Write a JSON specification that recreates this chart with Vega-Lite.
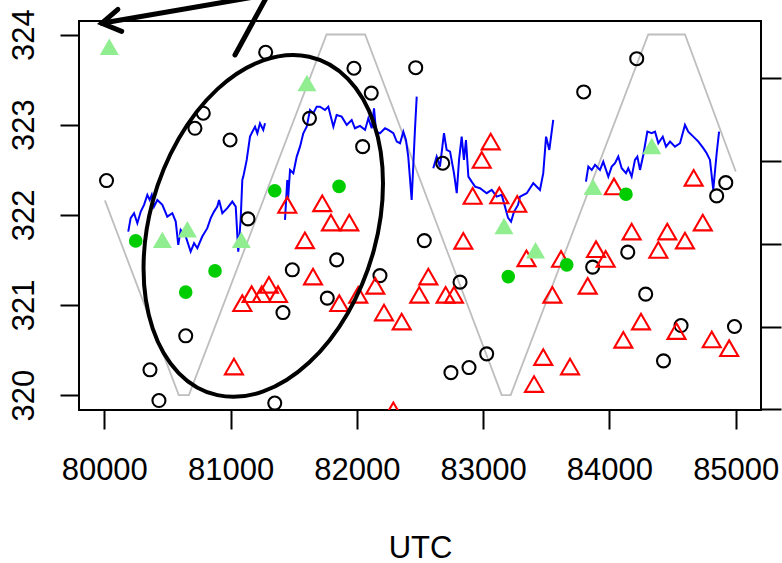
{
  "width": 682,
  "height": 389,
  "autosize": "none",
  "padding": {"left": 79, "top": 21, "right": 21, "bottom": 153},
  "background": "white",
  "config": {
    "view": {"stroke": "black", "strokeWidth": 2},
    "font": "Liberation Sans",
    "axis": {"grid": false, "domain": false, "tickColor": "black", "tickWidth": 2, "tickSize": 19, "labelFont": "Liberation Sans", "labelFontSize": 31, "labelColor": "black", "titleFont": "Liberation Sans", "titleFontSize": 31, "titleColor": "black", "titleFontWeight": "normal", "labelOverlap": false, "labelBound": false, "labelFlush": false}
  },
  "datasets": {
    "gray": [
      {"x": 80005, "y": 322.16}, {"x": 80590, "y": 320}, {"x": 80670, "y": 320}, {"x": 81760, "y": 324}, {"x": 82065, "y": 324},
      {"x": 83147, "y": 320}, {"x": 83218, "y": 320}, {"x": 84307, "y": 324}, {"x": 84598, "y": 324}, {"x": 85000, "y": 322.48}
    ],
    "blue": [
      {"s": 1, "x": 80190, "y": 321.814}, {"s": 1, "x": 80209, "y": 321.963}, {"s": 1, "x": 80236, "y": 322.018}, {"s": 1, "x": 80262, "y": 321.907},
      {"s": 1, "x": 80289, "y": 322.036}, {"s": 1, "x": 80315, "y": 322.11}, {"s": 1, "x": 80341, "y": 322.221}, {"s": 1, "x": 80360, "y": 322.165},
      {"s": 1, "x": 80376, "y": 322.221}, {"s": 1, "x": 80394, "y": 322.091}, {"s": 1, "x": 80420, "y": 322.165}, {"s": 1, "x": 80460, "y": 322.11},
      {"s": 1, "x": 80499, "y": 321.98}, {"s": 1, "x": 80539, "y": 322.018}, {"s": 1, "x": 80566, "y": 321.925}, {"s": 1, "x": 80586, "y": 321.667},
      {"s": 1, "x": 80605, "y": 321.833}, {"s": 1, "x": 80645, "y": 321.759}, {"s": 1, "x": 80684, "y": 321.592}, {"s": 1, "x": 80711, "y": 321.685},
      {"s": 1, "x": 80737, "y": 321.63}, {"s": 1, "x": 80776, "y": 321.759}, {"s": 1, "x": 80816, "y": 321.852}, {"s": 1, "x": 80843, "y": 321.963},
      {"s": 1, "x": 80869, "y": 322.036}, {"s": 1, "x": 80895, "y": 322.091}, {"s": 1, "x": 80909, "y": 322.165}, {"s": 1, "x": 80935, "y": 322.018},
      {"s": 1, "x": 80974, "y": 322.074}, {"s": 1, "x": 81014, "y": 322.147}, {"s": 1, "x": 81041, "y": 322.091}, {"s": 1, "x": 81061, "y": 321.592},
      {"s": 1, "x": 81080, "y": 321.944}, {"s": 1, "x": 81093, "y": 322.387}, {"s": 1, "x": 81101, "y": 322.424}, {"s": 1, "x": 81128, "y": 322.609},
      {"s": 1, "x": 81154, "y": 322.867}, {"s": 1, "x": 81167, "y": 322.905}, {"s": 1, "x": 81194, "y": 322.978}, {"s": 1, "x": 81212, "y": 322.905},
      {"s": 1, "x": 81233, "y": 323.016}, {"s": 1, "x": 81259, "y": 322.942}, {"s": 1, "x": 81273, "y": 323.016},
      {"s": 2, "x": 81431, "y": 321.944}, {"s": 2, "x": 81449, "y": 322.387}, {"s": 2, "x": 81455, "y": 322.165}, {"s": 2, "x": 81471, "y": 322.498},
      {"s": 2, "x": 81497, "y": 322.462}, {"s": 2, "x": 81524, "y": 322.646}, {"s": 2, "x": 81550, "y": 322.756}, {"s": 2, "x": 81576, "y": 322.905},
      {"s": 2, "x": 81603, "y": 322.978}, {"s": 2, "x": 81629, "y": 323.163}, {"s": 2, "x": 81655, "y": 323.127}, {"s": 2, "x": 81682, "y": 323.2},
      {"s": 2, "x": 81708, "y": 323.2}, {"s": 2, "x": 81748, "y": 323.163}, {"s": 2, "x": 81774, "y": 323.2}, {"s": 2, "x": 81814, "y": 322.978},
      {"s": 2, "x": 81840, "y": 323.108}, {"s": 2, "x": 81880, "y": 323.089}, {"s": 2, "x": 81920, "y": 322.997}, {"s": 2, "x": 81959, "y": 323.052},
      {"s": 2, "x": 81985, "y": 322.96}, {"s": 2, "x": 82025, "y": 322.986}, {"s": 2, "x": 82065, "y": 322.942}, {"s": 2, "x": 82091, "y": 323.071},
      {"s": 2, "x": 82118, "y": 322.96}, {"s": 2, "x": 82136, "y": 323.182}, {"s": 2, "x": 82152, "y": 322.923}, {"s": 2, "x": 82183, "y": 322.905},
      {"s": 2, "x": 82223, "y": 322.96}, {"s": 2, "x": 82249, "y": 322.942}, {"s": 2, "x": 82289, "y": 322.905}, {"s": 2, "x": 82316, "y": 322.812},
      {"s": 2, "x": 82342, "y": 322.794}, {"s": 2, "x": 82368, "y": 322.923}, {"s": 2, "x": 82389, "y": 322.83}, {"s": 2, "x": 82407, "y": 322.646},
      {"s": 2, "x": 82434, "y": 322.165}, {"s": 2, "x": 82460, "y": 322.942}, {"s": 2, "x": 82474, "y": 323.311},
      {"s": 3, "x": 82605, "y": 322.517}, {"s": 3, "x": 82632, "y": 322.646}, {"s": 3, "x": 82658, "y": 322.535}, {"s": 3, "x": 82690, "y": 322.905},
      {"s": 3, "x": 82711, "y": 322.72}, {"s": 3, "x": 82738, "y": 322.701}, {"s": 3, "x": 82769, "y": 322.462}, {"s": 3, "x": 82791, "y": 322.24},
      {"s": 3, "x": 82809, "y": 322.609}, {"s": 3, "x": 82830, "y": 322.867}, {"s": 3, "x": 82848, "y": 322.609}, {"s": 3, "x": 82864, "y": 322.83},
      {"s": 3, "x": 82883, "y": 322.424}, {"s": 3, "x": 82909, "y": 322.368}, {"s": 3, "x": 82936, "y": 322.313}, {"s": 3, "x": 82975, "y": 322.295},
      {"s": 3, "x": 83028, "y": 322.24}, {"s": 3, "x": 83068, "y": 322.276}, {"s": 3, "x": 83107, "y": 322.202}, {"s": 3, "x": 83147, "y": 322.221},
      {"s": 3, "x": 83173, "y": 322.091}, {"s": 3, "x": 83197, "y": 321.966}, {"s": 3, "x": 83221, "y": 321.925}, {"s": 3, "x": 83244, "y": 322.033},
      {"s": 3, "x": 83276, "y": 322.11}, {"s": 3, "x": 83292, "y": 322.202}, {"s": 3, "x": 83345, "y": 322.24}, {"s": 3, "x": 83397, "y": 322.351},
      {"s": 3, "x": 83450, "y": 322.276}, {"s": 3, "x": 83476, "y": 322.462}, {"s": 3, "x": 83498, "y": 322.867}, {"s": 3, "x": 83524, "y": 322.72},
      {"s": 3, "x": 83555, "y": 323.052},
      {"s": 4, "x": 83814, "y": 322.368}, {"s": 4, "x": 83833, "y": 322.535}, {"s": 4, "x": 83860, "y": 322.498}, {"s": 4, "x": 83886, "y": 322.554},
      {"s": 4, "x": 83925, "y": 322.498}, {"s": 4, "x": 83951, "y": 322.59}, {"s": 4, "x": 83991, "y": 322.424}, {"s": 4, "x": 84018, "y": 322.535},
      {"s": 4, "x": 84044, "y": 322.572}, {"s": 4, "x": 84070, "y": 322.646}, {"s": 4, "x": 84097, "y": 322.517}, {"s": 4, "x": 84131, "y": 322.462},
      {"s": 4, "x": 84149, "y": 322.517}, {"s": 4, "x": 84176, "y": 322.424}, {"s": 4, "x": 84202, "y": 322.609}, {"s": 4, "x": 84221, "y": 322.646},
      {"s": 4, "x": 84242, "y": 322.498}, {"s": 4, "x": 84268, "y": 322.664}, {"s": 4, "x": 84300, "y": 322.923}, {"s": 4, "x": 84335, "y": 322.905},
      {"s": 4, "x": 84361, "y": 322.923}, {"s": 4, "x": 84387, "y": 322.794}, {"s": 4, "x": 84422, "y": 322.867}, {"s": 4, "x": 84448, "y": 322.756},
      {"s": 4, "x": 84480, "y": 322.812}, {"s": 4, "x": 84519, "y": 322.756}, {"s": 4, "x": 84559, "y": 322.794}, {"s": 4, "x": 84598, "y": 322.997},
      {"s": 4, "x": 84624, "y": 322.923}, {"s": 4, "x": 84664, "y": 322.867}, {"s": 4, "x": 84704, "y": 322.812}, {"s": 4, "x": 84743, "y": 322.739},
      {"s": 4, "x": 84770, "y": 322.683}, {"s": 4, "x": 84796, "y": 322.609}, {"s": 4, "x": 84822, "y": 322.276}, {"s": 4, "x": 84849, "y": 322.683},
      {"s": 4, "x": 84868, "y": 322.923}
    ],
    "circles": [
      {"x": 80018, "y": 322.38}, {"x": 81278, "y": 323.803}, {"x": 80784, "y": 323.127}, {"x": 80718, "y": 322.96}, {"x": 80996, "y": 322.83},
      {"x": 81625, "y": 323.07}, {"x": 81977, "y": 323.626}, {"x": 82114, "y": 323.35}, {"x": 82466, "y": 323.632}, {"x": 82046, "y": 322.756},
      {"x": 82680, "y": 322.572}, {"x": 83796, "y": 323.363}, {"x": 84216, "y": 323.732}, {"x": 84849, "y": 322.21}, {"x": 84921, "y": 322.357},
      {"x": 81138, "y": 321.955}, {"x": 81489, "y": 321.39}, {"x": 81415, "y": 320.916}, {"x": 80645, "y": 320.658}, {"x": 80362, "y": 320.281},
      {"x": 80433, "y": 319.94}, {"x": 81350, "y": 319.912}, {"x": 81840, "y": 321.5}, {"x": 81766, "y": 321.076}, {"x": 82183, "y": 321.326},
      {"x": 82534, "y": 321.714}, {"x": 82817, "y": 321.253}, {"x": 83028, "y": 320.458}, {"x": 82888, "y": 320.306}, {"x": 82745, "y": 320.25},
      {"x": 83867, "y": 321.42}, {"x": 84145, "y": 321.586}, {"x": 84287, "y": 321.12}, {"x": 84567, "y": 320.772}, {"x": 84990, "y": 320.761},
      {"x": 84428, "y": 320.38}
    ],
    "reds": [
      {"x": 83060, "y": 322.812}, {"x": 82989, "y": 322.609}, {"x": 82917, "y": 322.21}, {"x": 83128, "y": 322.215}, {"x": 83270, "y": 322.121},
      {"x": 81449, "y": 322.11}, {"x": 81726, "y": 322.127}, {"x": 81795, "y": 321.914}, {"x": 81940, "y": 321.914}, {"x": 81589, "y": 321.717},
      {"x": 82843, "y": 321.711}, {"x": 81653, "y": 321.315}, {"x": 81093, "y": 321.02}, {"x": 81167, "y": 321.12}, {"x": 81247, "y": 321.12},
      {"x": 81304, "y": 321.223}, {"x": 81376, "y": 321.12}, {"x": 81027, "y": 320.317}, {"x": 81861, "y": 321.02}, {"x": 82011, "y": 321.112},
      {"x": 82146, "y": 321.212}, {"x": 82215, "y": 320.916}, {"x": 82355, "y": 320.816}, {"x": 82289, "y": 319.832}, {"x": 82566, "y": 321.315},
      {"x": 82494, "y": 321.112}, {"x": 82703, "y": 321.112}, {"x": 82769, "y": 321.112}, {"x": 83343, "y": 321.517}, {"x": 83476, "y": 320.422},
      {"x": 83403, "y": 320.123}, {"x": 83617, "y": 321.511}, {"x": 83548, "y": 321.112}, {"x": 83688, "y": 320.317}, {"x": 83828, "y": 321.212},
      {"x": 83894, "y": 321.619}, {"x": 83970, "y": 321.511}, {"x": 84036, "y": 322.315}, {"x": 84176, "y": 321.814}, {"x": 84250, "y": 320.816},
      {"x": 84110, "y": 320.613}, {"x": 84458, "y": 321.814}, {"x": 84387, "y": 321.611}, {"x": 84598, "y": 321.714}, {"x": 84739, "y": 321.914},
      {"x": 84667, "y": 322.41}, {"x": 84531, "y": 320.71}, {"x": 84810, "y": 320.617}, {"x": 84948, "y": 320.521}
    ],
    "greens": [
      {"x": 80249, "y": 321.711}, {"x": 80645, "y": 321.142}, {"x": 80877, "y": 321.378}, {"x": 81350, "y": 322.267},
      {"x": 81859, "y": 322.315}, {"x": 83199, "y": 321.315}, {"x": 83662, "y": 321.445}, {"x": 84131, "y": 322.229}
    ],
    "lgreens": [
      {"x": 80040, "y": 323.865}, {"x": 80460, "y": 321.722}, {"x": 80658, "y": 321.84}, {"x": 81085, "y": 321.722}, {"x": 81605, "y": 323.463},
      {"x": 83165, "y": 321.877}, {"x": 83415, "y": 321.608}, {"x": 83870, "y": 322.31}, {"x": 84335, "y": 322.764}
    ],
    "ellipse": [
      {"i": 0, "x": 82207, "y": 322.348}, {"i": 1, "x": 82135, "y": 321.61}, {"i": 2, "x": 81929, "y": 320.912}, {"i": 3, "x": 81622, "y": 320.361},
      {"i": 4, "x": 81259, "y": 320.041}, {"i": 5, "x": 80896, "y": 320.0}, {"i": 6, "x": 80589, "y": 320.245}, {"i": 7, "x": 80383, "y": 320.74},
      {"i": 8, "x": 80311, "y": 321.406}, {"i": 9, "x": 80383, "y": 322.144}, {"i": 10, "x": 80589, "y": 322.843}, {"i": 11, "x": 80896, "y": 323.394},
      {"i": 12, "x": 81259, "y": 323.713}, {"i": 13, "x": 81622, "y": 323.754}, {"i": 14, "x": 81929, "y": 323.509}, {"i": 15, "x": 82135, "y": 323.015}
    ],
    "arrows": [
      {"g": 1, "i": 0, "x": 79980, "y": 324.125}, {"g": 1, "i": 1, "x": 81508, "y": 324.494},
      {"g": 2, "i": 0, "x": 80108, "y": 324.28}, {"g": 2, "i": 1, "x": 79980, "y": 324.125}, {"g": 2, "i": 2, "x": 80138, "y": 324.035},
      {"g": 3, "i": 0, "x": 81035, "y": 323.773}, {"g": 3, "i": 1, "x": 81316, "y": 324.494}
    ]
  },
  "resolve": {"scale": {"x": "shared", "y": "shared"}, "axis": {"y": "independent"}},
  "layer": [
    {
      "data": {"name": "gray"},
      "mark": {"type": "line", "color": "#BEBEBE", "strokeWidth": 1.8},
      "encoding": {
        "x": {"field": "x", "type": "quantitative", "scale": {"domain": [79800, 85200], "nice": false, "zero": false},
              "axis": {"orient": "bottom", "values": [80000, 81000, 82000, 83000, 84000, 85000], "format": "d", "labelPadding": 26, "title": "UTC", "titleX": 341, "titleY": 147, "titleBaseline": "alphabetic"}},
        "y": {"field": "y", "type": "quantitative", "scale": {"domain": [319.835, 324.15], "nice": false, "zero": false},
              "axis": {"orient": "left", "values": [320, 321, 322, 323, 324], "labelAngle": 270, "labelAlign": "center", "labelBaseline": "bottom", "labelPadding": 20, "title": null}}
      }
    },
    {
      "data": {"name": "blue"},
      "mark": {"type": "line", "color": "#0000FF", "strokeWidth": 2},
      "encoding": {
        "x": {"field": "x", "type": "quantitative", "scale": {"domain": [79800, 85200], "nice": false, "zero": false}},
        "y": {"field": "y", "type": "quantitative", "scale": {"domain": [319.835, 324.15], "nice": false, "zero": false},
              "axis": {"orient": "right", "values": [323.52, 322.6, 321.68, 320.76, 319.845], "labels": false, "tickSize": 20, "title": null}},
        "detail": {"field": "s", "type": "nominal"}
      }
    },
    {
      "data": {"name": "circles"},
      "mark": {"type": "point", "shape": "circle", "filled": false, "color": "black", "strokeWidth": 2.1, "size": 169, "opacity": 1},
      "encoding": {
        "x": {"field": "x", "type": "quantitative", "scale": {"domain": [79800, 85200], "nice": false, "zero": false}},
        "y": {"field": "y", "type": "quantitative", "scale": {"domain": [319.835, 324.15], "nice": false, "zero": false}, "axis": null}
      }
    },
    {
      "data": {"name": "reds"},
      "mark": {"type": "point", "shape": "triangle-up", "filled": false, "color": "#FF0000", "strokeWidth": 2.1, "size": 324, "opacity": 1, "clip": true},
      "encoding": {
        "x": {"field": "x", "type": "quantitative", "scale": {"domain": [79800, 85200], "nice": false, "zero": false}},
        "y": {"field": "y", "type": "quantitative", "scale": {"domain": [319.835, 324.15], "nice": false, "zero": false}, "axis": null}
      }
    },
    {
      "data": {"name": "greens"},
      "mark": {"type": "point", "shape": "circle", "filled": true, "color": "#00CD00", "size": 185, "opacity": 1},
      "encoding": {
        "x": {"field": "x", "type": "quantitative", "scale": {"domain": [79800, 85200], "nice": false, "zero": false}},
        "y": {"field": "y", "type": "quantitative", "scale": {"domain": [319.835, 324.15], "nice": false, "zero": false}, "axis": null}
      }
    },
    {
      "data": {"name": "lgreens"},
      "mark": {"type": "point", "shape": "triangle-up", "filled": true, "color": "#90EE90", "size": 361, "opacity": 1},
      "encoding": {
        "x": {"field": "x", "type": "quantitative", "scale": {"domain": [79800, 85200], "nice": false, "zero": false}},
        "y": {"field": "y", "type": "quantitative", "scale": {"domain": [319.835, 324.15], "nice": false, "zero": false}, "axis": null}
      }
    },
    {
      "data": {"name": "ellipse"},
      "mark": {"type": "line", "color": "black", "strokeWidth": 4, "interpolate": "cardinal-closed"},
      "encoding": {
        "x": {"field": "x", "type": "quantitative", "scale": {"domain": [79800, 85200], "nice": false, "zero": false}},
        "y": {"field": "y", "type": "quantitative", "scale": {"domain": [319.835, 324.15], "nice": false, "zero": false}, "axis": null},
        "order": {"field": "i", "type": "quantitative"}
      }
    },
    {
      "data": {"name": "arrows"},
      "mark": {"type": "line", "color": "black", "strokeWidth": 5, "strokeCap": "round", "strokeJoin": "miter"},
      "encoding": {
        "x": {"field": "x", "type": "quantitative", "scale": {"domain": [79800, 85200], "nice": false, "zero": false}},
        "y": {"field": "y", "type": "quantitative", "scale": {"domain": [319.835, 324.15], "nice": false, "zero": false}, "axis": null},
        "detail": {"field": "g", "type": "nominal"},
        "order": {"field": "i", "type": "quantitative"}
      }
    }
  ]
}
